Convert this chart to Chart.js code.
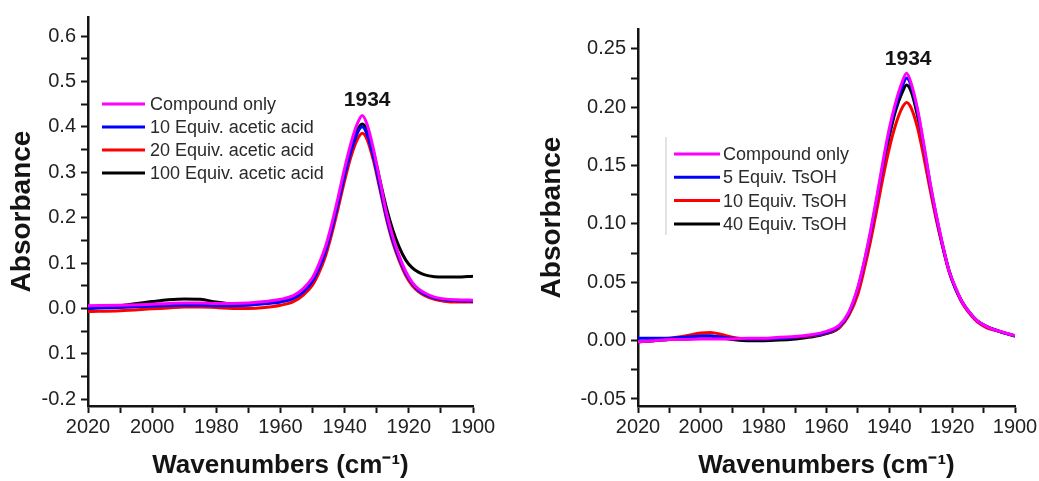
<!DOCTYPE html>
<html lang="en">
<head>
<meta charset="UTF-8">
<title>IR spectra - 1934 band</title>
<script src="https://cdn.jsdelivr.net/npm/chart.js"></script>
<style>
    html, body { margin: 0; padding: 0; background: #fff; }
    body { width: 1039px; height: 481px; overflow: hidden; position: relative; }
    .panel { position: absolute; top: 0; height: 481px; }
    #left-panel { left: 0; width: 520px; }
    #right-panel { left: 520px; width: 519px; }
</style>
</head>
<body>
<div class="panel" id="left-panel"><canvas id="leftChart"></canvas></div>
<div class="panel" id="right-panel"><canvas id="rightChart"></canvas></div>

<script>
// ---- left panel: acetic acid ----
const leftWavenumbers = [2020, 2010, 2000, 1995, 1990, 1985, 1980, 1975, 1970, 1965, 1960, 1956, 1953, 1950, 1948, 1946, 1944, 1942, 1940, 1938, 1936, 1934.5, 1933, 1931, 1929, 1927, 1925, 1923, 1921, 1919, 1917, 1915, 1912, 1909, 1905, 1900];
const leftCompound = [0.006, 0.007, 0.009, 0.011, 0.012, 0.012, 0.011, 0.011, 0.012, 0.015, 0.020, 0.028, 0.043, 0.068, 0.098, 0.136, 0.187, 0.246, 0.309, 0.365, 0.408, 0.425, 0.405, 0.350, 0.282, 0.212, 0.158, 0.116, 0.082, 0.058, 0.043, 0.034, 0.025, 0.021, 0.019, 0.018];
const leftAcetic10 = [0.000, 0.002, 0.005, 0.006, 0.007, 0.007, 0.006, 0.006, 0.007, 0.010, 0.014, 0.022, 0.036, 0.060, 0.088, 0.125, 0.175, 0.233, 0.293, 0.347, 0.387, 0.400, 0.383, 0.333, 0.268, 0.203, 0.150, 0.110, 0.078, 0.055, 0.040, 0.031, 0.023, 0.019, 0.017, 0.016];
const leftAcetic20 = [-0.007, -0.005, -0.001, 0.001, 0.003, 0.003, 0.002, 0.000, 0.000, 0.002, 0.007, 0.015, 0.029, 0.052, 0.079, 0.115, 0.165, 0.222, 0.282, 0.335, 0.373, 0.386, 0.372, 0.325, 0.262, 0.198, 0.145, 0.105, 0.073, 0.051, 0.037, 0.028, 0.020, 0.016, 0.014, 0.014];
const leftAcetic100 = [0.000, 0.006, 0.015, 0.019, 0.021, 0.020, 0.014, 0.010, 0.010, 0.012, 0.016, 0.024, 0.038, 0.062, 0.090, 0.127, 0.177, 0.236, 0.297, 0.352, 0.393, 0.406, 0.392, 0.344, 0.282, 0.222, 0.173, 0.135, 0.107, 0.090, 0.080, 0.074, 0.070, 0.069, 0.069, 0.071];
const leftYTickValues = [-0.2, -0.1, 0.0, 0.1, 0.2, 0.3, 0.4, 0.5, 0.6];
const leftYTickLabels = ['-0.2', '0.1', '0.0', '0.1', '0.2', '0.3', '0.4', '0.5', '0.6'];

// ---- right panel: TsOH ----
const rightWavenumbers = [2020, 2015, 2010, 2005, 2000, 1997, 1993, 1990, 1985, 1980, 1975, 1970, 1965, 1960, 1956, 1953, 1950, 1948, 1946, 1944, 1942, 1940, 1938, 1936, 1934.5, 1933, 1931, 1929, 1927, 1925, 1923, 1921, 1919, 1917, 1915, 1912, 1909, 1905, 1900];
const rightCompound = [-0.001, 0.000, 0.001, 0.001, 0.0015, 0.0015, 0.0015, 0.0015, 0.002, 0.002, 0.003, 0.0035, 0.005, 0.008, 0.013, 0.024, 0.046, 0.068, 0.094, 0.123, 0.154, 0.182, 0.204, 0.221, 0.229, 0.220, 0.198, 0.168, 0.135, 0.107, 0.082, 0.060, 0.046, 0.034, 0.026, 0.017, 0.012, 0.008, 0.0043];
const rightTsOH5 = [0.002, 0.002, 0.002, 0.003, 0.004, 0.004, 0.003, 0.002, 0.0015, 0.0015, 0.002, 0.003, 0.0045, 0.007, 0.012, 0.023, 0.045, 0.067, 0.092, 0.121, 0.151, 0.179, 0.201, 0.217, 0.225, 0.218, 0.196, 0.166, 0.134, 0.106, 0.081, 0.060, 0.045, 0.034, 0.026, 0.017, 0.012, 0.008, 0.004];
const rightTsOH10 = [-0.001, 0.000, 0.002, 0.004, 0.0065, 0.007, 0.005, 0.003, 0.0015, 0.0015, 0.002, 0.003, 0.004, 0.0065, 0.011, 0.021, 0.040, 0.061, 0.085, 0.112, 0.140, 0.165, 0.185, 0.199, 0.204, 0.199, 0.182, 0.157, 0.129, 0.103, 0.080, 0.059, 0.045, 0.033, 0.025, 0.016, 0.011, 0.008, 0.004];
const rightTsOH40 = [-0.001, 0.000, 0.001, 0.003, 0.004, 0.004, 0.002, 0.001, 0.000, 0.000, 0.0005, 0.0015, 0.003, 0.006, 0.011, 0.022, 0.043, 0.065, 0.090, 0.118, 0.148, 0.175, 0.197, 0.212, 0.219, 0.213, 0.192, 0.163, 0.132, 0.105, 0.081, 0.060, 0.045, 0.034, 0.026, 0.017, 0.012, 0.008, 0.004];
const rightYTickValues = [-0.05, 0.00, 0.05, 0.10, 0.15, 0.20, 0.25];
const rightYTickLabels = ['-0.05', '0.00', '0.05', '0.10', '0.15', '0.20', '0.25'];

const xTickValues = [2020, 2000, 1980, 1960, 1940, 1920, 1900];
const peakLabel = '1934';

const FONT = '"Liberation Sans", Arial, Helvetica, sans-serif';
const INK = '#141414';

function toPoints(xs, ys) {
    return xs.map((x, i) => ({ x: x, y: ys[i] }));
}

function series(label, color, xs, ys) {
    return {
        label: label,
        data: toPoints(xs, ys),
        borderColor: color,
        backgroundColor: color,
        borderWidth: 3,
        pointRadius: 0,
        cubicInterpolationMode: 'monotone',
        fill: false
    };
}

function labelFor(values, labels, v) {
    for (let i = 0; i < values.length; i++) {
        if (Math.abs(values[i] - v) < 1e-6) return labels[i];
    }
    return '';
}

// legend + peak number drawn inside the plot
const overlayPlugin = {
    id: 'overlay',
    afterDatasetsDraw(chart, args, opts) {
        const ctx = chart.ctx;
        const xs = chart.scales.x, ys = chart.scales.y;
        ctx.save();
        ctx.font = 'bold 21px ' + FONT;
        ctx.fillStyle = INK;
        ctx.textAlign = 'center';
        ctx.textBaseline = 'middle';
        ctx.fillText(peakLabel, xs.getPixelForValue(opts.peakAt[0]), ys.getPixelForValue(opts.peakAt[1]));

        const lg = opts.legend;
        if (lg.bar) {
            ctx.strokeStyle = '#c8c8c8';
            ctx.lineWidth = 1;
            ctx.beginPath();
            ctx.moveTo(lg.bar[0], lg.bar[1]);
            ctx.lineTo(lg.bar[0], lg.bar[2]);
            ctx.stroke();
        }
        ctx.font = '18px ' + FONT;
        ctx.textAlign = 'left';
        chart.data.datasets.forEach((ds, i) => {
            const y = lg.y + i * lg.rowGap;
            ctx.strokeStyle = ds.borderColor;
            ctx.lineWidth = 3;
            ctx.beginPath();
            ctx.moveTo(lg.x, y);
            ctx.lineTo(lg.x + lg.lineLen, y);
            ctx.stroke();
            ctx.fillStyle = '#2a2a2a';
            ctx.fillText(ds.label, lg.x + lg.lineLen + lg.textGap, y + 1);
        });
        ctx.restore();
    }
};

function makeChart(canvasId, cfg) {
    const yTicks = [];
    for (let v = cfg.yFirst; v <= cfg.yLast + 1e-9; v += cfg.yMinorStep) yTicks.push(+v.toFixed(4));
    const xTicks = [];
    for (let v = 1900; v <= 2020; v += 10) xTicks.push(v);

    return new Chart(document.getElementById(canvasId), {
        type: 'line',
        data: { datasets: cfg.datasets },
        options: {
            responsive: true,
            maintainAspectRatio: false,
            animation: false,
            layout: { padding: cfg.padding },
            plugins: {
                legend: { display: false },
                tooltip: { enabled: false },
                overlay: { peakAt: cfg.peakAt, legend: cfg.legend }
            },
            scales: {
                x: {
                    type: 'linear',
                    reverse: true,
                    min: 1900,
                    max: 2020,
                    afterBuildTicks: s => { s.ticks = xTicks.map(v => ({ value: v })); },
                    afterFit: s => { s.height = 75; },
                    grid: { drawOnChartArea: false, drawTicks: true, tickLength: 7, tickWidth: 2, tickColor: INK },
                    border: { display: true, color: INK, width: 2.5 },
                    ticks: {
                        autoSkip: false, maxRotation: 0, minRotation: 0, padding: 2,
                        color: '#222', font: { family: FONT, size: 20 },
                        callback: v => xTickValues.includes(v) ? String(v) : ''
                    },
                    title: {
                        display: true, text: 'Wavenumbers (cm\u207B\u00B9)', color: INK,
                        font: { family: FONT, size: 26, weight: 'bold' },
                        padding: { top: 0, bottom: 0 }
                    }
                },
                y: {
                    type: 'linear',
                    min: cfg.yMin,
                    max: cfg.yMax,
                    afterBuildTicks: s => { s.ticks = yTicks.map(v => ({ value: v })); },
                    afterFit: s => { s.width = cfg.yWidth; },
                    grid: { drawOnChartArea: false, drawTicks: true, tickLength: 7, tickWidth: 2, tickColor: INK },
                    border: { display: true, color: INK, width: 2.5 },
                    ticks: {
                        autoSkip: false, padding: 5,
                        color: '#222', font: { family: FONT, size: 20 },
                        callback: v => labelFor(cfg.yTickValues, cfg.yTickLabels, v)
                    },
                    title: {
                        display: true, text: 'Absorbance', color: INK,
                        font: { family: FONT, size: 28, weight: 'bold' },
                        padding: { top: cfg.yTitlePad, bottom: 0 }
                    }
                }
            }
        },
        plugins: [overlayPlugin]
    });
}

makeChart('leftChart', {
    datasets: [
        series('Compound only', '#ff00ff', leftWavenumbers, leftCompound),
        series('10 Equiv. acetic acid', '#0000ff', leftWavenumbers, leftAcetic10),
        series('20 Equiv. acetic acid', '#ff0000', leftWavenumbers, leftAcetic20),
        series('100 Equiv. acetic acid', '#000000', leftWavenumbers, leftAcetic100)
    ],
    padding: { left: 0, right: 47, top: 15, bottom: 0 },
    yMin: -0.215, yMax: 0.642,
    yFirst: -0.2, yLast: 0.6, yMinorStep: 0.05,
    yTickValues: leftYTickValues, yTickLabels: leftYTickLabels,
    yWidth: 88, yTitlePad: 5,
    peakAt: [1933, 0.458],
    legend: { x: 102, y: 104, rowGap: 23, lineLen: 43, textGap: 5 }
});

makeChart('rightChart', {
    datasets: [
        series('Compound only', '#ff00ff', rightWavenumbers, rightCompound),
        series('5 Equiv. TsOH', '#0000ff', rightWavenumbers, rightTsOH5),
        series('10 Equiv. TsOH', '#ff0000', rightWavenumbers, rightTsOH10),
        series('40 Equiv. TsOH', '#000000', rightWavenumbers, rightTsOH40)
    ],
    padding: { left: 0, right: 24, top: 29, bottom: 0 },
    yMin: -0.056, yMax: 0.267,
    yFirst: -0.05, yLast: 0.25, yMinorStep: 0.025,
    yTickValues: rightYTickValues, yTickLabels: rightYTickLabels,
    yWidth: 118, yTitlePad: 15,
    peakAt: [1934, 0.241],
    legend: { x: 154, y: 154, rowGap: 23.3, lineLen: 46, textGap: 3, bar: [146, 137, 235] }
});
</script>
</body>
</html>
